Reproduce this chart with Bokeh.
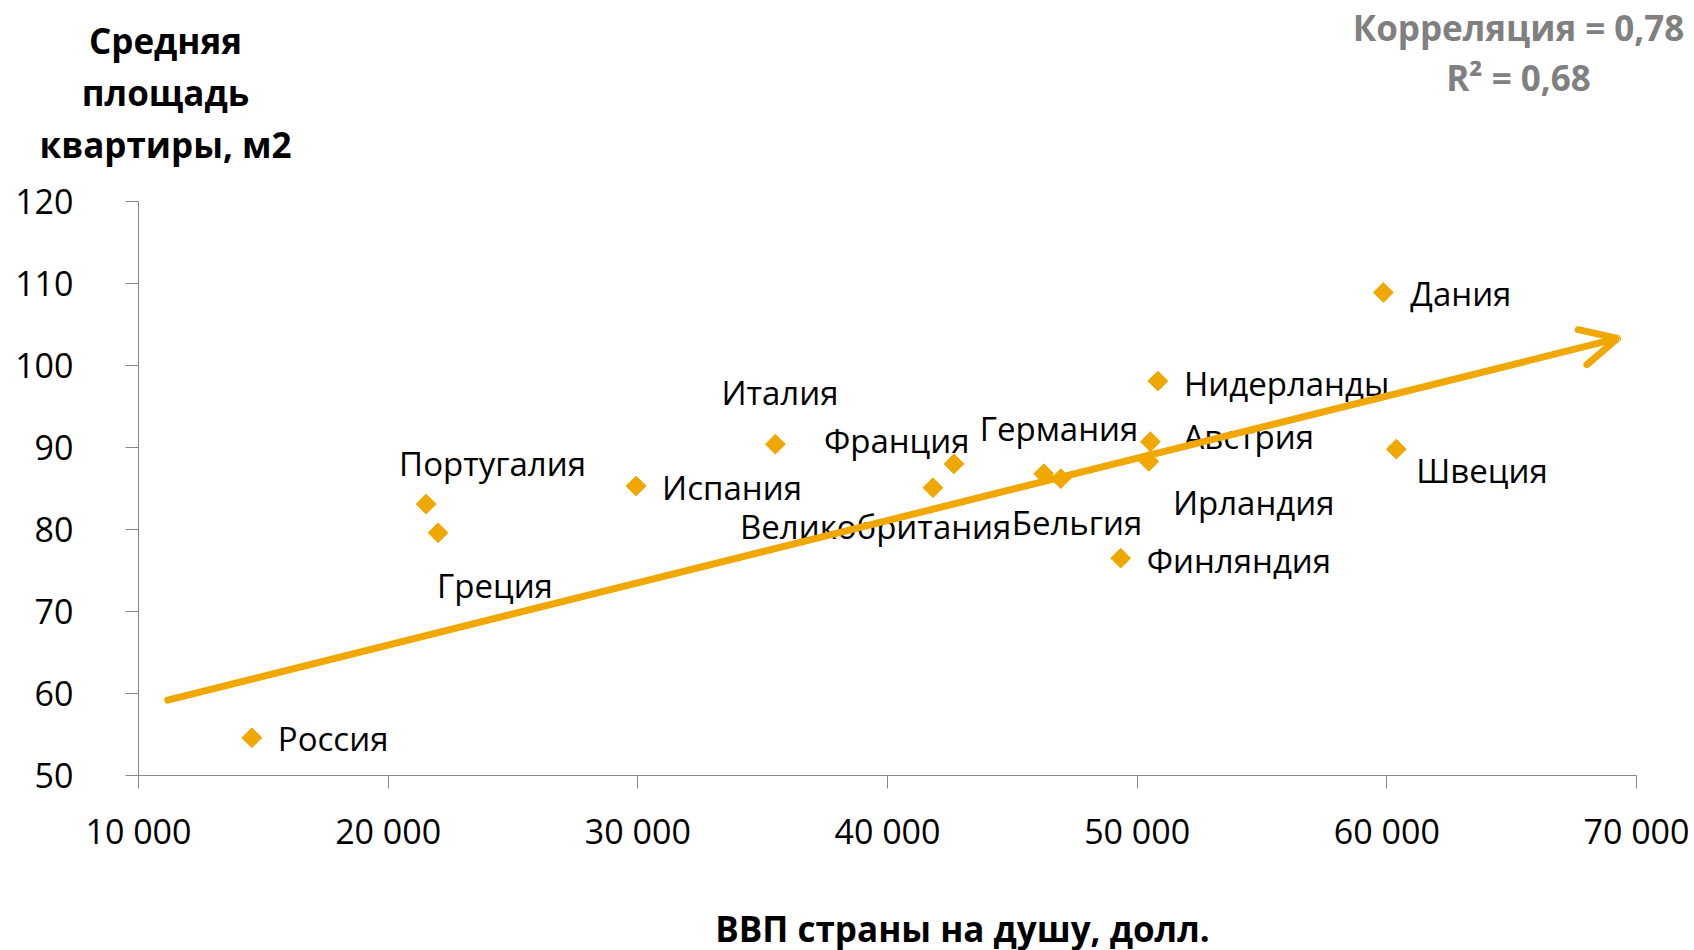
import math
from bokeh.plotting import figure
from bokeh.models import Range1d, FixedTicker, Label, Arrow, OpenHead, ColumnDataSource
from bokeh.core.properties import value
from bokeh.embed import file_html
from bokeh.resources import INLINE

# ---- data ----
countries = ["Россия", "Португалия", "Греция", "Испания", "Италия", "Великобритания",
             "Франция", "Германия", "Бельгия", "Финляндия", "Австрия", "Ирландия",
             "Нидерланды", "Дания", "Швеция"]
gdp = [14540, 21520, 22000, 29930, 35510, 41820, 42660, 46260, 46940, 49340,
       50530, 50470, 50830, 59860, 60380]
area = [54.6, 83.1, 79.6, 85.3, 90.4, 85.1, 88.0, 86.8, 86.2, 76.5,
        90.7, 88.3, 98.1, 108.9, 89.8]

trend_start = (11170, 59.2)
trend_end = (69240, 103.3)

x_ticks = [10000, 20000, 30000, 40000, 50000, 60000, 70000]
x_tick_labels = ["10 000", "20 000", "30 000", "40 000", "50 000", "60 000", "70 000"]
y_ticks = [50, 60, 70, 80, 90, 100, 110, 120]
y_tick_labels = ["50", "60", "70", "80", "90", "100", "110", "120"]

y_title = ["Средняя", "площадь", "квартиры, м2"]
x_title = "ВВП страны на душу, долл."
stats = ["Корреляция = 0,78", "R² = 0,68"]

# label placement (pixel offsets from each point)
label_dx = [26, -27, -1, 26, -54, -193, -130, -64, -49, 26, 33, 24, 26, 27, 20]
label_dy = [1, -41, 53, 1, -52, 39, -23, -45, 44, 2, -5, 41, 2, 1, 21]

ORANGE = "#F0A800"
FONT = "Open Sans"

W, H = 1694, 950
BL, BR, BT, BB = 138, 58, 201, 174
X0, X1, Y0, Y1 = 10000, 70000, 50, 120

p = figure(width=W, height=H, output_backend="svg", toolbar_location=None,
           x_range=Range1d(X0, X1), y_range=Range1d(Y0, Y1),
           min_border_left=BL, min_border_right=BR, min_border_top=BT,
           min_border_bottom=BB)
p.outline_line_color = None
p.xgrid.visible = False
p.ygrid.visible = False


def at(px, py):
    """page pixel -> data coords (for placing text outside the frame)"""
    x = X0 + (px - BL) / (W - BL - BR) * (X1 - X0)
    y = Y1 - (py - BT) / (H - BT - BB) * (Y1 - Y0)
    return x, y


for ax, ticks, labels in ((p.xaxis[0], x_ticks, x_tick_labels), (p.yaxis[0], y_ticks, y_tick_labels)):
    ax.ticker = FixedTicker(ticks=ticks)
    ax.major_label_overrides = {t: l for t, l in zip(ticks, labels)}
    ax.axis_line_color = "#868686"
    ax.major_tick_line_color = "#868686"
    ax.major_tick_in = 0
    ax.major_tick_out = 13
    ax.minor_tick_line_color = None
    ax.major_label_text_font = FONT
    ax.major_label_text_font_size = "34px"
    ax.major_label_text_color = "black"
p.xaxis.major_label_standoff = 19
p.yaxis.major_label_standoff = 52

# trend arrow
p.add_layout(Arrow(end=OpenHead(size=36, line_color=ORANGE, line_width=7, line_cap="round"),
                   x_start=trend_start[0], y_start=trend_start[1],
                   x_end=trend_end[0], y_end=trend_end[1],
                   line_color=ORANGE, line_width=7, line_cap="round"))

src = ColumnDataSource(dict(x=gdp, y=area, name=countries, dx=label_dx, dy=label_dy))
p.scatter("x", "y", source=src, marker="square", angle=math.pi / 4, size=14,
          fill_color=ORANGE, line_color=ORANGE)
p.text("x", "y", text="name", source=src, x_offset="dx", y_offset="dy",
       text_font=value(FONT), text_font_size="33px", text_align="left",
       text_baseline="middle", text_color="black")


# titles: data-unit labels placed in side panels so they are not clipped to the frame
def title_label(px, py, text, color, side):
    x, y = at(px, py)
    p.add_layout(Label(x=x, y=y, text=text, text_font=FONT, text_font_size="35px",
                       text_font_style="bold", text_align="center",
                       text_baseline="middle", text_color=color), side)


for i, line in enumerate(y_title):
    title_label(165, 40 + 52 * i, line, "black", "above")
title_label(1518, 27, stats[0], "#808080", "above")
title_label(962, 929, x_title, "black", "below")
title_label(1518, 77, stats[1], "#808080", "below")

open("out.html", "w").write(file_html(p, INLINE))
